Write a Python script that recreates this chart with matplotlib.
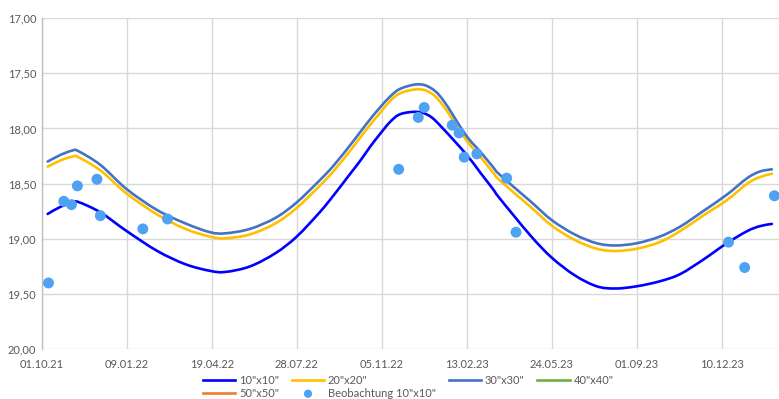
import matplotlib
matplotlib.use("Agg")
import matplotlib.pyplot as plt
import matplotlib.dates as mdates
from matplotlib.path import Path
from matplotlib.patches import PathPatch
from matplotlib.lines import Line2D
from matplotlib.ticker import FixedLocator, FuncFormatter
import numpy as np
import pandas as pd

# ---- data -------------------------------------------------------------
curve_dates = [
    "08.10.21", "23.10.21", "06.11.21", "13.11.21", "09.12.21", "09.01.22",
    "14.02.22", "19.03.22", "17.04.22", "05.05.22", "03.06.22", "03.07.22",
    "28.07.22", "24.08.22", "09.09.22", "29.09.22", "11.10.22", "22.10.22",
    "03.11.22", "15.11.22", "27.11.22", "17.12.22", "01.01.23", "16.01.23",
    "12.02.23", "01.03.23", "16.03.23", "24.03.23", "29.04.23", "24.05.23",
    "20.06.23", "16.07.23", "07.08.23", "01.09.23", "28.09.23", "22.10.23",
    "18.11.23", "16.12.23", "09.01.24", "24.01.24", "07.02.24",
]
mag_10x10 = [
    18.775, 18.71, 18.675, 18.666, 18.76, 18.93, 19.11, 19.23, 19.29, 19.30,
    19.25, 19.13, 18.98, 18.76, 18.61, 18.41, 18.29, 18.17, 18.05, 17.94,
    17.87, 17.85, 17.89, 18.00, 18.23, 18.40, 18.55, 18.635, 18.97, 19.17,
    19.33, 19.43, 19.45, 19.43, 19.385, 19.32, 19.19, 19.04, 18.93, 18.885,
    18.865,
]
mag_20x20 = [
    18.346, 18.29, 18.255, 18.26, 18.38, 18.59, 18.78, 18.91, 18.98, 18.995,
    18.96, 18.86, 18.72, 18.52, 18.39, 18.20, 18.08, 17.97, 17.86, 17.75,
    17.68, 17.645, 17.675, 17.79, 18.10, 18.255, 18.40, 18.47, 18.71, 18.88,
    19.01, 19.09, 19.11, 19.09, 19.03, 18.93, 18.79, 18.65, 18.50, 18.44,
    18.41,
]
mag_30x30 = [
    18.30, 18.24, 18.20, 18.205, 18.33, 18.55, 18.74, 18.86, 18.94, 18.95,
    18.91, 18.81, 18.67, 18.47, 18.34, 18.15, 18.03, 17.92, 17.81, 17.71,
    17.64, 17.60, 17.63, 17.74, 18.06, 18.21, 18.35, 18.42, 18.66, 18.83,
    18.96, 19.04, 19.06, 19.04, 18.98, 18.89, 18.75, 18.60, 18.45, 18.39,
    18.37,
]
mag_40x40 = []
mag_50x50 = []

obs_dates = [
    "09.10.21", "27.10.21", "05.11.21", "12.11.21", "05.12.21", "09.12.21",
    "28.01.22", "26.02.22", "25.11.22", "18.12.22", "25.12.22", "27.01.23",
    "04.02.23", "10.02.23", "25.02.23", "01.04.23", "12.04.23", "18.12.23",
    "06.01.24", "10.02.24",
]
obs_10x10 = [
    19.40, 18.66, 18.69, 18.52, 18.46, 18.79, 18.91, 18.82, 18.37, 17.90,
    17.81, 17.97, 18.04, 18.26, 18.23, 18.45, 18.94, 19.03, 19.26, 18.61,
]

x_tick_labels = ["01.10.21", "09.01.22", "19.04.22", "28.07.22", "05.11.22",
                 "13.02.23", "24.05.23", "01.09.23", "10.12.23"]
y_ticks = [17.0, 17.5, 18.0, 18.5, 19.0, 19.5, 20.0]


def to_num(dates):
    return mdates.date2num(pd.to_datetime(dates, format="%d.%m.%y"))


def smooth_line(ax, xs, ys, color, lw, label):
    """Draw a smoothed line through the points (Catmull-Rom as cubic Beziers)."""
    pts = np.column_stack([xs, ys]).astype(float)
    handle = Line2D([], [], color=color, lw=lw, label=label)
    if len(pts) < 2:
        return handle
    ext = np.vstack([pts[0], pts, pts[-1]])
    verts = [pts[0]]
    codes = [Path.MOVETO]
    for i in range(1, len(ext) - 2):
        p0, p1, p2, p3 = ext[i - 1], ext[i], ext[i + 1], ext[i + 2]
        verts += [p1 + (p2 - p0) / 6.0, p2 - (p3 - p1) / 6.0, p2]
        codes += [Path.CURVE4] * 3
    ax.add_patch(PathPatch(Path(verts, codes), fill=False, edgecolor=color,
                           lw=lw, capstyle="round", joinstyle="round", zorder=3))
    return handle


# ---- figure -----------------------------------------------------------
plt.rcParams["font.family"] = ["Lato", "DejaVu Sans"]
W, H = 779, 399
fig = plt.figure(figsize=(W / 100, H / 100), dpi=100)

x0 = to_num(["01.10.21"])[0]
x1 = x0 + 900
left_px, right_px = 41.7, 41.7 + 900 * 0.85
top_px, bottom_px = 18.1, 349.2
ax = fig.add_axes([left_px / W, 1 - bottom_px / H,
                   (right_px - left_px) / W, (bottom_px - top_px) / H])

cx = to_num(curve_dates)
h10 = smooth_line(ax, cx, mag_10x10, "#0000FF", 1.9, '10"x10"')
h20 = smooth_line(ax, cx, mag_20x20, "#FFC000", 1.9, '20"x20"')
h30 = smooth_line(ax, cx, mag_30x30, "#4472C4", 1.9, '30"x30"')
h40 = smooth_line(ax, cx[:len(mag_40x40)], mag_40x40, "#70AD47", 1.9, '40"x40"')
h50 = smooth_line(ax, cx[:len(mag_50x50)], mag_50x50, "#ED7D31", 1.9, '50"x50"')
hobs = ax.scatter(to_num(obs_dates), obs_10x10, s=62, color="#4EA1F3",
                  edgecolors="none", label='Beobachtung 10"x10"', zorder=4)

ax.set_xlim(x0, x1)
ax.set_ylim(20.0, 17.0)

ax.xaxis.set_major_locator(FixedLocator(to_num(x_tick_labels)))
ax.set_xticklabels(x_tick_labels)
ax.set_yticks(y_ticks)
ax.yaxis.set_major_formatter(FuncFormatter(lambda v, p: f"{v:.2f}".replace(".", ",")))

ax.grid(True, color="#D9D9D9", lw=1.0)
ax.set_axisbelow(True)
for side in ("top", "right", "bottom"):
    ax.spines[side].set_visible(False)
ax.spines["left"].set_color("#BFBFBF")
ax.spines["left"].set_linewidth(1.0)
ax.tick_params(axis="both", length=0, labelsize=8, colors="#595959")
ax.tick_params(axis="x", pad=7)
ax.tick_params(axis="y", pad=4)

# column-wise order so the legend reads row by row
handles = [h10, h50, h20, hobs, h30, h40]
fig.legend(handles, [h.get_label() for h in handles],
           loc="upper left", bbox_to_anchor=(203 / W, 1 - 375 / H),
           ncol=4, frameon=False, fontsize=8, labelcolor="#595959",
           handlelength=2.9, handletextpad=0.35, columnspacing=1.15,
           labelspacing=0.15, borderpad=0, borderaxespad=0, markerscale=0.75)

fig.savefig("out.png", dpi=100)
